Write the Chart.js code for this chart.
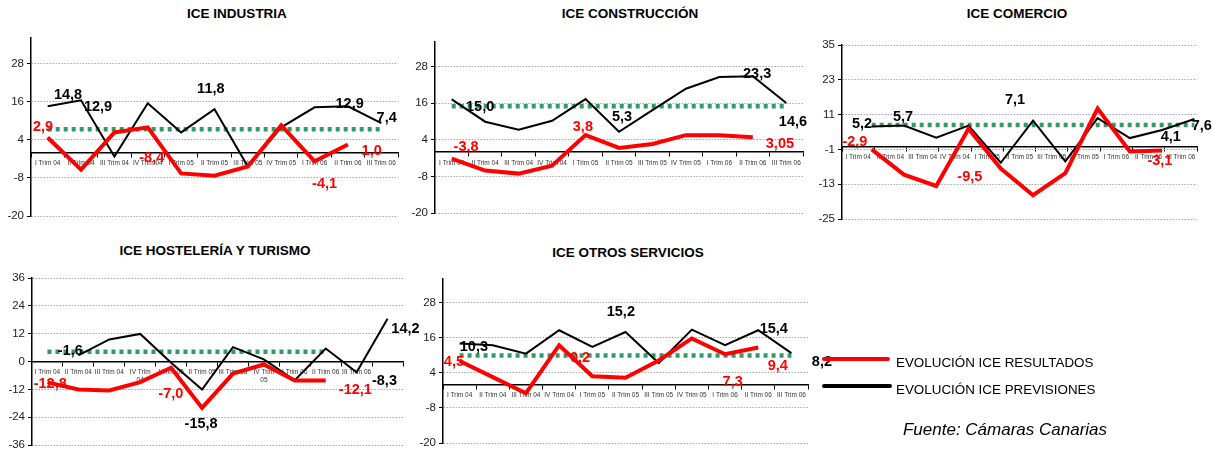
<!DOCTYPE html>
<html>
<head>
<meta charset="utf-8">
<script src="https://cdn.jsdelivr.net/npm/chart.js@4/dist/chart.umd.min.js"></script>
<style>
  body { margin: 0; background: #fff; font-family: Arial, "Liberation Sans", sans-serif; }
  #page { position: relative; width: 1214px; height: 450px; overflow: hidden; }
  .panel { position: absolute; }
  .titulo { position: absolute; font-weight: bold; font-size: 13.5px; color: #000; transform: translate(-50%, -50%); white-space: nowrap; }
  .ley-linea { position: absolute; height: 4px; border-radius: 2px; }
  .ley-texto { position: absolute; font-size: 13.4px; color: #000; transform: translateY(-50%); white-space: nowrap; }
  #fuente { position: absolute; font-style: italic; font-size: 17px; color: #000; transform: translate(-50%, -50%); white-space: nowrap; }
</style>
</head>
<body>
<div id="page">
  <div class="titulo" style="left:237px;top:13px">ICE INDUSTRIA</div>
  <div class="titulo" style="left:630px;top:13px">ICE CONSTRUCCIÓN</div>
  <div class="titulo" style="left:1017px;top:13px">ICE COMERCIO</div>
  <div class="titulo" style="left:215px;top:250px">ICE HOSTELERÍA Y TURISMO</div>
  <div class="titulo" style="left:628px;top:252px">ICE OTROS SERVICIOS</div>

  <div class="panel" id="p-industria"><canvas></canvas></div>
  <div class="panel" id="p-construccion"><canvas></canvas></div>
  <div class="panel" id="p-comercio"><canvas></canvas></div>
  <div class="panel" id="p-hosteleria"><canvas></canvas></div>
  <div class="panel" id="p-otros"><canvas></canvas></div>

  <div class="ley-linea" style="left:822px;top:357px;width:68px;height:3.5px;background:#ff0000"></div>
  <div class="ley-texto" style="left:896px;top:362px">EVOLUCIÓN ICE RESULTADOS</div>
  <div class="ley-linea" style="left:822px;top:384px;width:70px;background:#000"></div>
  <div class="ley-texto" style="left:896px;top:389px">EVOLUCIÓN ICE PREVISIONES</div>
  <div id="fuente" style="left:1005px;top:430px">Fuente: Cámaras Canarias</div>
</div>

<script>
// --- datos ---
var trimestres = ['I Trim 04', 'II Trim 04', 'III Trim 04', 'IV Trim 04', 'I Trim 05', 'II Trim 05',
  'III Trim 05', 'IV Trim 05', 'I Trim 06', 'II Trim 06', 'III Trim 06'];
var trimestresHost = ['I Trim 04', 'II Trim 04', 'III Trim 04', ['IV Trim', '04'], 'I Trim 05', 'II Trim 05',
  'III Trim 05', ['IV Trim', '05'], 'I Trim 06', 'II Trim 06', 'III Trim 06', ''];

var ticks56 = [-20, -8, 4, 16, 28];
var ticksComercio = [-25, -13, -1, 11, 23, 35];
var ticksHost = [-36, -24, -12, 0, 12, 24, 36];

var industriaRes = [4.7, -5.4, 6.3, 7.9, -6.6, -7.3, -4.4, 8.5, -2.8, 2.5];
var industriaPrev = [14.5, 16.4, -1.3, 15.5, 6.3, 13.6, -4.4, 7.9, 14.2, 14.5, 9.2];
var industriaMedia = [7.3, 7.3, 7.3, 7.3, 7.3, 7.3, 7.3, 7.3, 7.3, 7.3, 7.3];
var industriaEtiqPrev = [[0.61, 18.0, '14,8'], [1.51, 14.2, '12,9'], [4.89, 19.9, '11,8'], [9.05, 15.2, '12,9'], [10.16, 10.7, '7,4']];
var industriaEtiqRes = [[-0.14, 7.9, '2,9'], [3.12, -1.6, '-8,4'], [8.3, -9.8, '-4,1'], [9.71, 0.3, '1,0']];

var construccionRes = [-2.2, -6.1, -7.1, -4.5, 5.5, 1.3, 2.6, 5.5, 5.5, 4.8];
var construccionPrev = [17.2, 9.9, 7.3, 10.2, 17.3, 6.6, 13.7, 20.7, 24.5, 24.8, 16.0];
var construccionMedia = [15.0, 15.0, 15.0, 15.0, 15.0, 15.0, 15.0, 15.0, 15.0, 15.0, 15.0];
var construccionEtiqPrev = [[0.85, 14.7, '15,0'], [5.09, 11.4, '5,3'], [9.13, 25.4, '23,3'], [10.2, 9.8, '14,6']];
var construccionEtiqRes = [[0.43, 1.7, '-3,8'], [3.92, 8.2, '3,8'], [9.81, 2.7, '3,05']];

var comercioRes = [-1.0, -9.7, -13.6, 6.1, -7.6, -16.8, -9.2, 13.1, -1.7, -1.4];
var comercioPrev = [6.9, 7.2, 3.0, 7.2, -5.6, 8.9, -5.1, 9.8, 2.9, 5.7, 9.5];
var comercioMedia = [7.4, 7.4, 7.4, 7.4, 7.4, 7.4, 7.4, 7.4, 7.4, 7.4, 7.4];
var comercioEtiqPrev = [[0.12, 7.9, '5,2'], [1.39, 10.3, '5,7'], [4.86, 16.1, '7,1'], [9.69, 3.4, '4,1'], [10.65, 6.9, '7,6']];
var comercioEtiqRes = [[-0.1, 1.4, '-2,9'], [3.46, -10.6, '-9,5'], [9.35, -5.1, '-3,1']];

var hostRes = [-9.0, -12.1, -12.5, -8.9, -2.7, -20.0, -5.2, -1.3, -8.2, -8.2];
var hostPrev = [2.6, 9.5, 11.9, -0.5, -12.1, 6.2, 0.9, -8.1, 5.6, -4.6, 18.4];
var hostMedia = [4.2, 4.2, 4.2, 4.2, 4.2, 4.2, 4.2, 4.2, 4.2, 4.2];
var hostEtiqPrev = [[0.74, 4.7, '-1,6'], [4.97, -26.8, '-15,8'], [10.9, -8.6, '-8,3'], [11.58, 14.2, '14,2']];
var hostEtiqRes = [[0.09, -9.5, '-12,8'], [3.99, -14.2, '-7,0'], [9.96, -12.5, '-12,1']];

var otrosRes = [8.0, 2.5, -3.0, 13.4, 2.8, 2.3, 8.2, 15.7, 10.3, 12.6];
var otrosPrev = [14.0, 13.4, 10.5, 18.5, 12.8, 17.9, 7.3, 18.7, 13.4, 18.5, 10.7];
var otrosMedia = [9.9, 9.9, 9.9, 9.9, 9.9, 9.9, 9.9, 9.9, 9.9, 9.9, 9.9];
var otrosEtiqPrev = [[0.43, 12.7, '10,3'], [4.86, 24.7, '15,2'], [9.47, 18.9, '15,4'], [10.92, 7.5, '8,2']];
var otrosEtiqRes = [[-0.17, 7.5, '4,5'], [3.63, 8.9, '0,2'], [8.23, 0.7, '7,3'], [9.59, 6.2, '9,4']];

var FONT = 'Arial, "Liberation Sans", sans-serif';
var COL_RES = '#ff0000';
var COL_PREV = '#000000';
var COL_MEDIA = '#339966';

// etiquetas de valor, ancladas en coordenadas de datos
var etiquetasPlugin = {
  id: 'etiquetas',
  afterDatasetsDraw: function(chart, args, opts) {
    var ctx = chart.ctx;
    var sx = chart.scales.x, sy = chart.scales.y;
    ctx.save();
    ctx.font = 'bold 14.5px ' + FONT;
    ctx.textAlign = 'center';
    ctx.textBaseline = 'middle';
    (opts.grupos || []).forEach(function(g) {
      ctx.fillStyle = g.color;
      g.items.forEach(function(it) {
        ctx.fillText(it[2], sx.getPixelForValue(it[0]), sy.getPixelForValue(it[1]));
      });
    });
    ctx.restore();
  }
};

function serie(values, shift) {
  return values.map(function(v, i) { return { x: i + shift, y: v }; });
}

function crearPanel(cfg) {
  var W = 30, padTop = 10, padBottom = 8, padRight = cfg.padRight || 12;
  var el = document.getElementById(cfg.id);
  var left = cfg.axisX - W, top = cfg.top - padTop;
  el.style.left = left + 'px';
  el.style.top = top + 'px';
  var canvas = el.querySelector('canvas');
  canvas.width = cfg.right + padRight - left;
  canvas.height = cfg.bottom + padBottom - top;
  var n = cfg.labels.length;
  var shiftRes = cfg.shiftRes || 0, shiftPrev = cfg.shiftPrev || 0;

  new Chart(canvas, {
    type: 'line',
    data: {
      labels: cfg.labels,
      datasets: [
        { data: serie(cfg.res, shiftRes), borderColor: COL_RES, borderWidth: 4, xAxisID: 'xd', yAxisID: 'y' },
        { data: serie(cfg.prev, shiftPrev), borderColor: COL_PREV, borderWidth: 2, xAxisID: 'xd', yAxisID: 'y' },
        { data: serie(cfg.media, shiftRes), borderColor: COL_MEDIA, borderWidth: 4.5, borderDash: [4, 4],
          borderCapStyle: 'butt', xAxisID: 'xd', yAxisID: 'y' }
      ]
    },
    options: {
      responsive: false,
      animation: false,
      events: [],
      layout: { padding: { top: padTop, bottom: padBottom, right: padRight, left: 0 } },
      elements: { point: { radius: 0 }, line: { tension: 0, fill: false } },
      plugins: {
        legend: { display: false },
        tooltip: { enabled: false },
        etiquetas: {
          grupos: [
            { color: COL_PREV, items: cfg.etiqPrev },
            { color: COL_RES, items: cfg.etiqRes }
          ]
        }
      },
      scales: {
        xd: { type: 'linear', display: false, min: -0.5, max: n - 0.5 },
        x: {
          type: 'category',
          position: { y: 0 },
          offset: true,
          grid: { offset: true, drawOnChartArea: false, drawTicks: true, tickLength: 4, color: '#000', lineWidth: 1 },
          border: { color: '#000', width: 1.5 },
          ticks: { autoSkip: false, maxRotation: 0, minRotation: 0, padding: 3, color: '#333',
            font: { size: 6.5, family: FONT } },
          afterFit: function(s) { s.paddingLeft = 0; s.paddingRight = 0; }
        },
        y: {
          min: cfg.min,
          max: cfg.max,
          afterBuildTicks: function(s) { s.ticks = cfg.yTicks.map(function(v) { return { value: v }; }); },
          afterFit: function(s) { s.width = W; s.paddingTop = 0; s.paddingBottom = 0; },
          grid: { color: '#a6a6a6', lineWidth: 1, drawTicks: true, tickLength: 4, tickColor: '#000' },
          border: { color: '#000', width: 1.5, dash: [1.5, 1.5] },
          ticks: { padding: 3, color: '#222', font: { size: 11.5, family: FONT } }
        }
      }
    },
    plugins: [etiquetasPlugin]
  });
}

crearPanel({ id: 'p-industria', axisX: 31, top: 38, bottom: 216, right: 398,
  labels: trimestres, min: -20, max: 36, yTicks: ticks56,
  res: industriaRes, prev: industriaPrev, media: industriaMedia,
  etiqPrev: industriaEtiqPrev, etiqRes: industriaEtiqRes });

crearPanel({ id: 'p-construccion', axisX: 435, top: 42, bottom: 213, right: 803, padRight: 14,
  labels: trimestres, min: -20, max: 36, yTicks: ticks56,
  res: construccionRes, prev: construccionPrev, media: construccionMedia,
  etiqPrev: construccionEtiqPrev, etiqRes: construccionEtiqRes });

crearPanel({ id: 'p-comercio', axisX: 842, top: 45, bottom: 219, right: 1197, padRight: 17,
  labels: trimestres, min: -25, max: 35, yTicks: ticksComercio, shiftRes: 0.42, shiftPrev: 0.42,
  res: comercioRes, prev: comercioPrev, media: comercioMedia,
  etiqPrev: comercioEtiqPrev, etiqRes: comercioEtiqRes });

crearPanel({ id: 'p-hosteleria', axisX: 32, top: 278, bottom: 445, right: 403, padRight: 22,
  labels: trimestresHost, min: -36, max: 36, yTicks: ticksHost, shiftPrev: 1,
  res: hostRes, prev: hostPrev, media: hostMedia,
  etiqPrev: hostEtiqPrev, etiqRes: hostEtiqRes });

crearPanel({ id: 'p-otros', axisX: 443, top: 279, bottom: 443, right: 808, padRight: 28,
  labels: trimestres, min: -20, max: 36, yTicks: ticks56,
  res: otrosRes, prev: otrosPrev, media: otrosMedia,
  etiqPrev: otrosEtiqPrev, etiqRes: otrosEtiqRes });
</script>
</body>
</html>
